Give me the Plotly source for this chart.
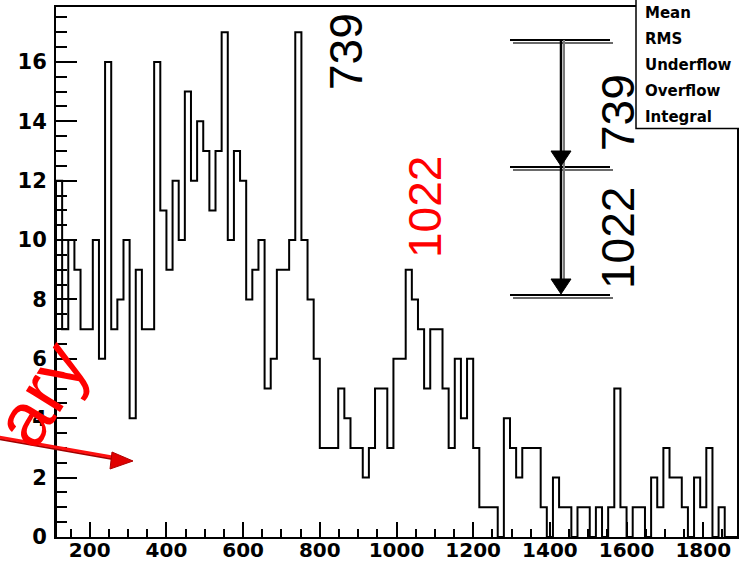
import plotly.graph_objects as go

# Histogram contents: one entry per bin, bins are 16 units wide starting at 112
bin_start = 112
bin_width = 16
counts = [12, 7, 10, 9, 7, 7, 10, 6, 16, 7,
          8, 10, 4, 9, 7, 7, 16, 11, 9, 12,
          10, 15, 12, 14, 13, 11, 13, 17, 10, 13,
          12, 8, 9, 10, 5, 6, 9, 9, 10, 17,
          10, 8, 6, 3, 3, 3, 5, 4, 3, 3,
          2, 3, 5, 5, 3, 6, 6, 9, 8, 7,
          5, 7, 7, 5, 3, 6, 4, 6, 3, 1,
          1, 1, 0, 4, 3, 2, 3, 3, 3, 1,
          0, 2, 1, 1, 0, 1, 1, 0, 1, 0,
          1, 5, 1, 0, 1, 1, 0, 2, 1, 3,
          2, 2, 1, 0, 2, 1, 3, 0, 1, 0,
          0]

x_ticks = [200, 400, 600, 800, 1000, 1200, 1400, 1600, 1800]
y_ticks = [0, 2, 4, 6, 8, 10, 12, 14, 16]
peak_labels = ["739", "1022"]
stat_names = ["Mean", "RMS", "Underflow", "Overflow", "Integral"]

W, H = 739, 561
L, R, T, B = 56, 737, 7, 537          # plot frame in pixels
x_lo = bin_start
x_hi = bin_start + bin_width * len(counts)
y_hi = 1.05 * max(counts)

# step outline built from the bin edges and contents
edges = [bin_start + bin_width * i for i in range(len(counts) + 1)]
step_x = [edges[0]] + edges + [edges[-1]]
step_y = [0] + counts + [counts[-1], 0]


def pxp(x):
    return (x - L) / (R - L)


def pyp(y):
    return (B - y) / (B - T)


fig = go.Figure()
fig.add_trace(go.Scatter(x=step_x, y=step_y, mode="lines", line_shape="hv",
                         line=dict(color="black", width=2), hoverinfo="skip",
                         showlegend=False))

fig.update_xaxes(range=[x_lo, x_hi], tickvals=x_ticks,
                 ticktext=[str(v) for v in x_ticks],
                 ticks="inside", ticklen=15, tickwidth=2, tickcolor="black",
                 minor=dict(dtick=50, tick0=0, ticks="inside", ticklen=8,
                            tickwidth=2, tickcolor="black"),
                 showline=True, linecolor="black", linewidth=2, mirror=True,
                 showgrid=False, zeroline=False,
                 tickfont=dict(family="DejaVu Sans", size=20, color="black",
                               weight="bold"),
                 ticklabelstandoff=-6, automargin=False)
fig.update_yaxes(range=[0, y_hi], tickvals=y_ticks,
                 ticktext=[str(v) for v in y_ticks],
                 ticks="inside", ticklen=21, tickwidth=2, tickcolor="black",
                 minor=dict(dtick=0.5, tick0=0, ticks="inside", ticklen=11,
                            tickwidth=2, tickcolor="black"),
                 showline=True, linecolor="black", linewidth=2, mirror=True,
                 showgrid=False, zeroline=False,
                 tickfont=dict(family="DejaVu Sans", size=21, color="black",
                               weight="bold"),
                 ticklabelstandoff=3, automargin=False)

shapes = []
annotations = []

# level scheme: three levels joined by two downward transitions
lev_x0, lev_x1, arr_x = 510, 610, 561
levels = [40, 167, 295]
for ly in levels:
    shapes.append(dict(type="line", xref="paper", yref="paper",
                       x0=pxp(lev_x0 + 3), x1=pxp(lev_x1 + 3),
                       y0=pyp(ly + 3), y1=pyp(ly + 3),
                       line=dict(color="#6a6a6a", width=2)))
    shapes.append(dict(type="line", xref="paper", yref="paper",
                       x0=pxp(lev_x0), x1=pxp(lev_x1), y0=pyp(ly), y1=pyp(ly),
                       line=dict(color="black", width=2)))
shapes.append(dict(type="line", xref="paper", yref="paper",
                   x0=pxp(arr_x + 3), x1=pxp(arr_x + 3),
                   y0=pyp(levels[0]), y1=pyp(levels[2] - 12),
                   line=dict(color="#7a7a7a", width=2)))
shapes.append(dict(type="line", xref="paper", yref="paper",
                   x0=pxp(arr_x), x1=pxp(arr_x),
                   y0=pyp(levels[0]), y1=pyp(levels[2] - 12),
                   line=dict(color="black", width=2.5)))
for tip in levels[1:]:
    hw, hl = 10, 16
    path = "M {} {} L {} {} L {} {} Z".format(
        pxp(arr_x - hw), pyp(tip - hl), pxp(arr_x + hw), pyp(tip - hl),
        pxp(arr_x), pyp(tip - 1))
    shapes.append(dict(type="path", xref="paper", yref="paper", path=path,
                       fillcolor="black", line=dict(color="black", width=1)))

# red pointer arrow at the lower left
ax0, ay0, ax1, ay1 = -2, 437, 118, 458
shapes.append(dict(type="line", xref="paper", yref="paper",
                   x0=pxp(ax0), y0=pyp(ay0 + 2), x1=pxp(ax1), y1=pyp(ay1 + 2),
                   line=dict(color="#a00000", width=2)))
shapes.append(dict(type="line", xref="paper", yref="paper",
                   x0=pxp(ax0), y0=pyp(ay0), x1=pxp(ax1), y1=pyp(ay1),
                   line=dict(color="#ff1010", width=3)))
tipx, tipy = 133, 461
path = "M {} {} L {} {} L {} {} Z".format(
    pxp(112), pyp(452), pxp(tipx), pyp(tipy), pxp(110), pyp(469))
shapes.append(dict(type="path", xref="paper", yref="paper", path=path,
                   fillcolor="#e00000", line=dict(color="#b00000", width=1)))

# statistics box in the top right corner
shapes.append(dict(type="rect", xref="paper", yref="paper",
                   x0=pxp(636), x1=pxp(770), y0=pyp(128.5), y1=pyp(-10),
                   fillcolor="white", line=dict(color="black", width=1.5),
                   layer="above"))
for i, name in enumerate(stat_names):
    annotations.append(dict(text=name, xref="paper", yref="paper",
                            x=pxp(643), y=pyp(12.5 + 26.1 * i),
                            xanchor="left", yanchor="middle", showarrow=False,
                            font=dict(family="DejaVu Sans", size=15,
                                      color="black", weight="bold")))

big_font = dict(family="Liberation Sans", size=46, color="black")
annotations.append(dict(text=peak_labels[0], xref="paper", yref="paper",
                        x=pxp(346), y=pyp(52), textangle=-90, showarrow=False,
                        xanchor="center", yanchor="middle", font=big_font))
annotations.append(dict(text=peak_labels[1], xref="paper", yref="paper",
                        x=pxp(425), y=pyp(207), textangle=-90, showarrow=False,
                        xanchor="center", yanchor="middle",
                        font=dict(big_font, color="red")))
annotations.append(dict(text=peak_labels[0], xref="paper", yref="paper",
                        x=pxp(618), y=pyp(113), textangle=-90, showarrow=False,
                        xanchor="center", yanchor="middle", font=big_font))
annotations.append(dict(text=peak_labels[1], xref="paper", yref="paper",
                        x=pxp(618), y=pyp(238), textangle=-90, showarrow=False,
                        xanchor="center", yanchor="middle", font=big_font))
annotations.append(dict(text="ary", xref="paper", yref="paper",
                        x=pxp(40), y=pyp(393), textangle=-58, showarrow=False,
                        xanchor="center", yanchor="middle",
                        font=dict(family="Liberation Sans", size=76,
                                  color="red")))

fig.update_layout(width=W, height=H,
                  margin=dict(l=L, r=W - R, t=T, b=H - B),
                  paper_bgcolor="white", plot_bgcolor="white",
                  shapes=shapes, annotations=annotations, showlegend=False)

fig.write_html("out.html")
